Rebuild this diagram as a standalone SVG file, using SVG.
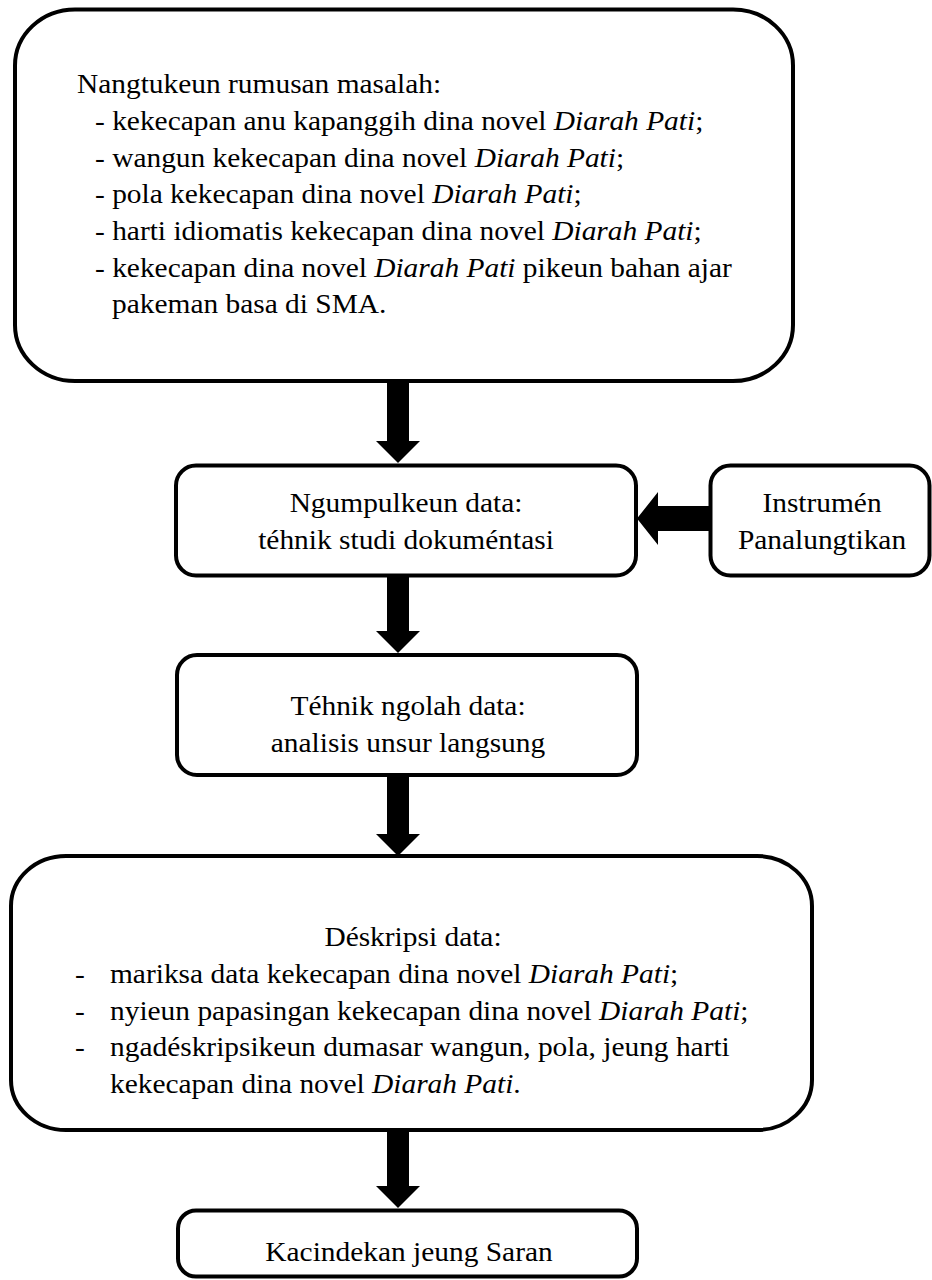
<svg xmlns="http://www.w3.org/2000/svg" width="932" height="1280" viewBox="0 0 932 1280">
<style>
.box{fill:#fff;stroke:#000;stroke-width:4}
.t{font-family:"Liberation Serif","Times New Roman",serif;font-size:26.5px;fill:#000}
.c{text-anchor:middle}
.i{font-style:italic}
.arr{fill:#000;stroke:none}
</style>
<rect width="932" height="1280" fill="#fff"/>
<g id="connectors">
<polygon class="arr" points="387,381 409,381 409,441 420,441 398,463 376,441 387,441"/>
<polygon class="arr" points="387,575 409,575 409,631 420,631 398,653 376,631 387,631"/>
<polygon class="arr" points="387,775 409,775 409,834 420,834 398,856 376,834 387,834"/>
<polygon class="arr" points="387,1130 409,1130 409,1186 420,1186 398,1208 376,1186 387,1186"/>
<polygon class="arr" points="710,506 658,506 658,492 637,518.5 658,545 658,531 710,531"/>
</g>
<g id="n1">
<rect class="box" x="15" y="9.5" width="778" height="371.5" rx="60" ry="56"/>
<text class="t" transform="translate(77,93) scale(1.11,1)">Nangtukeun rumusan masalah:</text>
<text class="t" transform="translate(95,130) scale(1.11,1)">- kekecapan anu kapanggih dina novel <tspan class="i">Diarah Pati</tspan>;</text>
<text class="t" transform="translate(95,167) scale(1.11,1)">- wangun kekecapan dina novel <tspan class="i">Diarah Pati</tspan>;</text>
<text class="t" transform="translate(95,203) scale(1.11,1)">- pola kekecapan dina novel <tspan class="i">Diarah Pati</tspan>;</text>
<text class="t" transform="translate(95,240) scale(1.11,1)">- harti idiomatis kekecapan dina novel <tspan class="i">Diarah Pati</tspan>;</text>
<text class="t" transform="translate(95,277) scale(1.11,1)">- kekecapan dina novel <tspan class="i">Diarah Pati</tspan> pikeun bahan ajar</text>
<text class="t" transform="translate(112,313) scale(1.11,1)">pakeman basa di SMA.</text>
</g>
<g id="n2">
<rect class="box" x="176" y="465.5" width="460" height="110" rx="20"/>
<text class="t c" transform="translate(406,512) scale(1.11,1)">Ngumpulkeun data:</text>
<text class="t c" transform="translate(406,549) scale(1.11,1)">téhnik studi dokuméntasi</text>
</g>
<g id="n3">
<rect class="box" x="710.5" y="465.5" width="219" height="110" rx="20"/>
<text class="t c" transform="translate(822,512) scale(1.11,1)">Instrumén</text>
<text class="t c" transform="translate(822,549) scale(1.11,1)">Panalungtikan</text>
</g>
<g id="n4">
<rect class="box" x="177" y="655" width="460" height="120" rx="20"/>
<text class="t c" transform="translate(408,715) scale(1.11,1)">Téhnik ngolah data:</text>
<text class="t c" transform="translate(408,752) scale(1.11,1)">analisis unsur langsung</text>
</g>
<g id="n5">
<rect class="box" x="11" y="856" width="801" height="274" rx="55" ry="50"/>
<text class="t c" transform="translate(413,946) scale(1.11,1)">Déskripsi data:</text>
<text class="t" transform="translate(75,983) scale(1.11,1)">-</text>
<text class="t" transform="translate(110,983) scale(1.11,1)">mariksa data kekecapan dina novel <tspan class="i">Diarah Pati</tspan>;</text>
<text class="t" transform="translate(75,1020) scale(1.11,1)">-</text>
<text class="t" transform="translate(110,1020) scale(1.11,1)">nyieun papasingan kekecapan dina novel <tspan class="i">Diarah Pati</tspan>;</text>
<text class="t" transform="translate(75,1056) scale(1.11,1)">-</text>
<text class="t" transform="translate(110,1056) scale(1.11,1)">ngadéskripsikeun dumasar wangun, pola, jeung harti</text>
<text class="t" transform="translate(110,1093) scale(1.11,1)">kekecapan dina novel <tspan class="i">Diarah Pati</tspan>.</text>
</g>
<g id="n6">
<rect class="box" x="178" y="1210.5" width="459" height="66" rx="18"/>
<text class="t c" transform="translate(409,1261) scale(1.11,1)">Kacindekan jeung Saran</text>
</g>
</svg>
